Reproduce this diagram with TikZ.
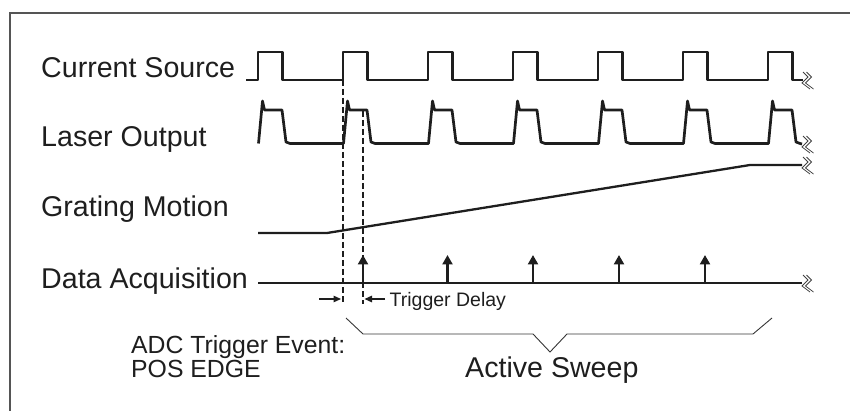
\documentclass[tikz,border=0pt]{standalone}
\usepackage{fontspec}
\setmainfont{Liberation Sans}
\usetikzlibrary{arrows.meta}
\definecolor{ink}{HTML}{1E1E1E}
\definecolor{framec}{HTML}{555555}
\begin{document}
\begin{tikzpicture}[x=1pt,y=-1pt,
  sig/.style={line width=2.7pt, draw=ink, line join=round},
  lbl/.style={font=\fontsize{28.6}{32}\selectfont, text=ink, inner sep=0pt, anchor=base west},
  small/.style={font=\fontsize{24.8}{28}\selectfont, text=ink, inner sep=0pt, anchor=base west, align=left},
  tiny/.style={font=\fontsize{19.5}{22}\selectfont, text=ink, inner sep=0pt, anchor=base west},
  dsh/.style={line width=1.9pt, draw=ink, dash pattern=on 6pt off 3pt},
  brk/.style={line width=0.75pt, draw=ink!85},
  acq/.style={line width=2.3pt, draw=ink, -{Triangle[length=9.5pt,width=10pt]}},
  dly/.style={line width=1.3pt, draw=ink, -{Triangle[length=7.5pt,width=6.5pt]}},
  brace/.style={line width=0.9pt, draw=ink!90},
  brkmark/.pic={\draw[brk] (1,-8) -- (6,-3) -- (0,3) -- (8,9);
                \draw[brk] (4.5,-8) -- (9.5,-3) -- (3.5,3) -- (11.5,9);}
]
\useasboundingbox (0,0) rectangle (850,411);
% frame
\draw[framec, line width=1.5pt] (10,411) -- (10,13) -- (850,13);

% labels
\node[lbl] (cs) at (41,77.3) {Current Source};
\node[lbl] (lo) at (41,147) {Laser Output};
\node[lbl] (gm) at (41,217) {Grating Motion};
\node[lbl] (da) at (41,288) {Data Acquisition};

% current source
\draw[sig] (246,80) foreach \r in {258,343,428,513,598,683,768} {
  -- (\r,80) -- (\r,52) -- (\r+24.5,52) -- (\r+24.5,80) } -- (803,80);
\pic at (802,80) {brkmark};

% laser output
\draw[sig] (258.5,143.5) foreach \r in {258,343,428,513,598,683,768} {
  -- (\r+0.5,143.5) -- (\r+4.5,101) -- (\r+6.5,110) -- (\r+24,110)
  -- (\r+28,142) -- (\r+32,143.5) } -- (802,144);
\pic at (802,144) {brkmark};

% grating motion
\draw[line width=2.3pt, draw=ink, line join=round] (258,233) -- (327,233) -- (750,165) -- (802,165);
\pic at (802,165) {brkmark};

% data acquisition
\coordinate (dstart) at (258,283);
\coordinate (dend) at (802,283);
\draw[line width=2.6pt, draw=ink] (dstart) -- (dend);
\pic at (802,283) {brkmark};
\foreach \x [count=\i] in {363,447.5,533,619,705} {
  \coordinate (ab\i) at (\x,283);
  \coordinate (at\i) at (\x,255);
  \draw[acq] (ab\i) -- (at\i);
}

% dashed lines
\coordinate (d1t) at (342.7,80);
\coordinate (d1b) at (342.7,304);
\coordinate (d2t) at (362.7,111);
\coordinate (d2b) at (362.7,304);
\draw[dsh] (d1t) -- (d1b);
\draw[dsh] (d2t) -- (d2b);

% trigger delay
\coordinate (tl0) at (319,299);
\coordinate (tl1) at (341,299);
\coordinate (tr0) at (385,299);
\coordinate (tr1) at (364.5,299);
\draw[dly] (tl0) -- (tl1);
\draw[dly] (tr0) -- (tr1);
\node[tiny] (td) at (389.5,306.7) {Trigger Delay};

% brace
\draw[brace] (346,318) -- (363,334) -- (533,334) -- (550,352) -- (567,334) -- (753,334) -- (772,318);

% bottom texts
\node[small] (adc) at (131,353) {ADC Trigger Event:};
\node[small] (pos) at (131,377) {POS EDGE};
\node[lbl] (as) at (465,377) {Active Sweep};
\end{tikzpicture}
\end{document}
